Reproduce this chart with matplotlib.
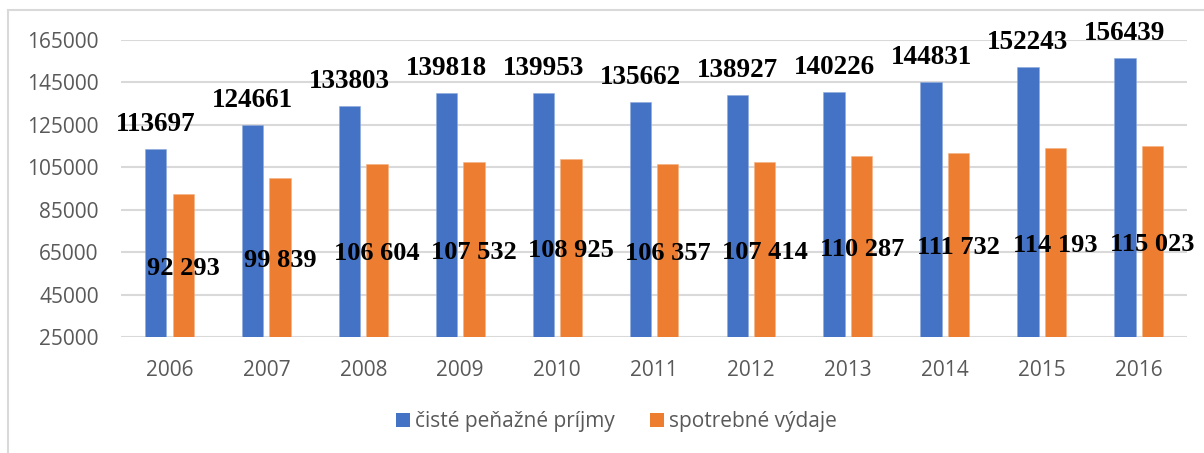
import numpy as np
import matplotlib
matplotlib.use("Agg")
import matplotlib.pyplot as plt
from matplotlib.patches import Rectangle

# values
years = ["2006", "2007", "2008", "2009", "2010", "2011", "2012", "2013", "2014", "2015", "2016"]
prijmy = [113697, 124661, 133803, 139818, 139953, 135662, 138927, 140226, 144831, 152243, 156439]
vydaje = [92293, 99839, 106604, 107532, 108925, 106357, 107414, 110287, 111732, 114193, 115023]
y_ticks = [25000, 45000, 65000, 85000, 105000, 125000, 145000, 165000]

blue = "#4472C4"
orange = "#ED7D31"
gray_txt = "#595959"
grid_col = "#D9D9D9"
label_font = "Liberation Serif"

plt.rcParams["font.family"] = ["Open Sans", "DejaVu Sans"]

fig = plt.figure(figsize=(12.04, 4.53), dpi=100)
ax = fig.add_axes([0.1005, 0.255, 0.8855, 0.6578])

# light frame around the chart area
fig.patches.append(Rectangle((8 / 1204, -0.1), 1.2, 1 - 10 / 453 + 0.1,
                             transform=fig.transFigure, fill=False,
                             edgecolor=grid_col, linewidth=1.5))

x = np.arange(len(years))
w = 0.22
off = 0.142
b1 = ax.bar(x - off, np.array(prijmy) - y_ticks[0], w, bottom=y_ticks[0], color=blue,
            edgecolor="#8FAADC", linewidth=0.4, zorder=3, label="čisté peňažné príjmy")
b2 = ax.bar(x + off, np.array(vydaje) - y_ticks[0], w, bottom=y_ticks[0], color=orange,
            edgecolor="#F4B183", linewidth=0.4, zorder=3, label="spotrebné výdaje")

# labels above blue bars
for xi, v in zip(x, prijmy):
    ax.annotate(str(v), (xi - off, v), xytext=(0, 13), textcoords="offset points",
                ha="center", va="baseline", fontsize=19.5, fontweight="bold",
                family=label_font, color="black", zorder=5)

# labels in the middle of orange bars
for xi, v in zip(x, vydaje):
    mid = (y_ticks[0] + v) / 2
    txt = f"{v:,}".replace(",", " ")
    ax.annotate(txt, (xi + off, mid), xytext=(0, -6.5), textcoords="offset points",
                ha="center", va="baseline", fontsize=19, fontweight="bold",
                family=label_font, color="black", zorder=5)

ax.set_xlim(-0.5, len(years) - 0.5)
ax.set_ylim(y_ticks[0], y_ticks[-1])
ax.set_yticks(y_ticks)
ax.set_yticklabels([str(t) for t in y_ticks])
ax.set_xticks(x)
ax.set_xticklabels(years)
ax.tick_params(axis="both", length=0, labelsize=15, colors=gray_txt)
ax.tick_params(axis="y", pad=16)
ax.tick_params(axis="x", pad=16)

ax.grid(axis="y", color=grid_col, linewidth=1.5, zorder=0)
ax.set_axisbelow(True)
for s in ax.spines.values():
    s.set_visible(False)

leg = fig.legend(handles=[b1, b2], loc="center", bbox_to_anchor=(0.512, 1 - 422 / 453),
                 ncol=2, frameon=False, fontsize=15, handlelength=0.67, handleheight=0.67,
                 handletextpad=0.25, columnspacing=1.7, labelcolor=gray_txt)
for h in leg.legend_handles:
    h.set_edgecolor("none")

fig.savefig("out.png", dpi=100)
